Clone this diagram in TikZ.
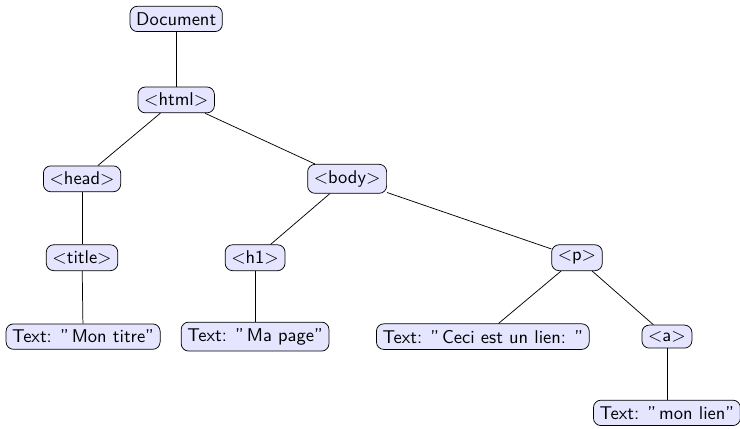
\documentclass[tikz,border=0pt]{standalone}
\renewcommand{\familydefault}{\sfdefault}
\begin{document}
\begin{tikzpicture}[domnode/.style={draw,rounded corners=4pt,fill=blue!10}]
    \useasboundingbox (0,0) rectangle (14.07,-8.14);
    \node[domnode] (doc) at (3.35,-0.36) {Document};
    \node[domnode] (html) at (3.35,-1.9) {$<$html$>$};
    \node[domnode] (head) at (1.56,-3.4) {$<$head$>$};
    \node[domnode] (body) at (6.6,-3.4) {$<$body$>$};
    \node[domnode] (title) at (1.56,-4.9) {$<$title$>$};
    \node[domnode] (hone) at (4.85,-4.9) {$<$h1$>$};
    \node[domnode] (para) at (10.97,-4.9) {$<$p$>$};
    \node[domnode] (ttitle) at (1.58,-6.4) {Text: ''\,Mon titre''};
    \node[domnode] (thone) at (4.85,-6.4) {Text: ''\,Ma page''};
    \node[domnode] (tpara) at (9.18,-6.4) {Text: ''\,Ceci est un lien: ''};
    \node[domnode] (link) at (12.68,-6.4) {$<$a$>$};
    \node[domnode] (tlink) at (12.68,-7.85) {Text: ''\,mon lien''};
    \draw (doc) -- (html);
    \draw (html) -- (head);
    \draw (html) -- (body);
    \draw (head) -- (title);
    \draw (body) -- (hone);
    \draw (body) -- (para);
    \draw (title) -- (ttitle);
    \draw (hone) -- (thone);
    \draw (para) -- (tpara);
    \draw (para) -- (link);
    \draw (link) -- (tlink);
  \end{tikzpicture}
\end{document}
